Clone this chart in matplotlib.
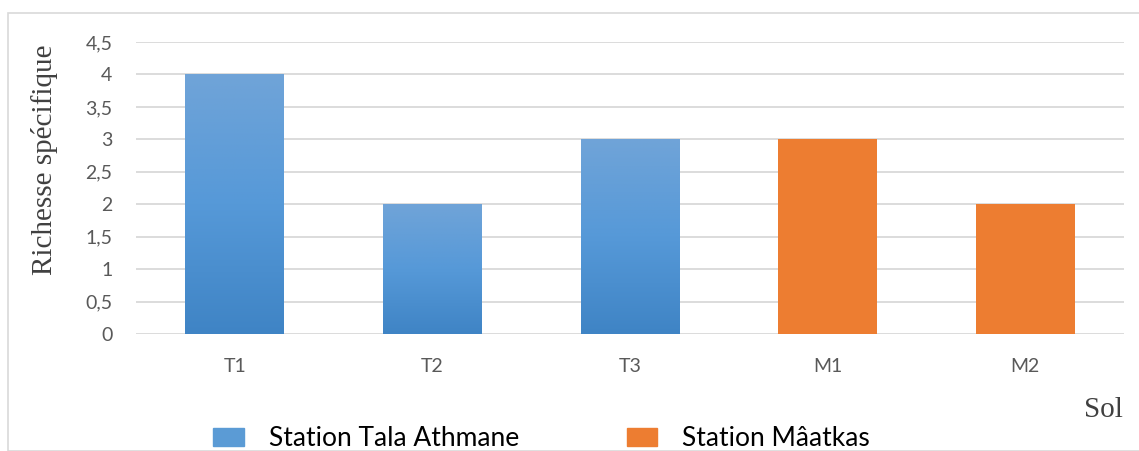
import matplotlib.pyplot as plt
import matplotlib.patches as mpatches
import matplotlib.patheffects as pe
import numpy as np
from matplotlib.colors import LinearSegmentedColormap

categories = ["T1", "T2", "T3", "M1", "M2"]
values = [4, 2, 3, 3, 2]
stations = ["Station Tala Athmane", "Station Tala Athmane", "Station Tala Athmane",
            "Station Mâatkas", "Station Mâatkas"]
yticks = [0, 0.5, 1, 1.5, 2, 2.5, 3, 3.5, 4, 4.5]
ytick_labels = ["0", "0,5", "1", "1,5", "2", "2,5", "3", "3,5", "4", "4,5"]

blue = "#5b9bd5"
orange = "#ed7d31"
blue_grad = LinearSegmentedColormap.from_list("bg", ["#3f84c5", "#5699d8", "#70a4d8"])

fig = plt.figure(figsize=(11.39, 4.51), dpi=100)
fig.patches.append(mpatches.Rectangle((8 / 1139, 0), 1.0, 1 - 13 / 451, transform=fig.transFigure,
                                      fill=False, edgecolor="#d9d9d9", linewidth=1.2))
ax = fig.add_axes([136 / 1139, 1 - 334 / 451, 988 / 1139, 292 / 451])

x = np.arange(len(categories))
colors = [blue if s.startswith("Station Tala") else orange for s in stations]
bars = ax.bar(x, values, width=0.5, color=colors, zorder=3,
              path_effects=[pe.SimplePatchShadow(offset=(0, 0), shadow_rgbFace="#888888", alpha=0.35),
                            pe.Normal()])

# gradient fill on the blue bars
grad = np.linspace(0, 1, 256).reshape(-1, 1)
for b, c in zip(bars, colors):
    if c == blue:
        im = ax.imshow(grad, cmap=blue_grad, origin="lower", aspect="auto", zorder=4,
                       extent=[b.get_x(), b.get_x() + b.get_width(), 0, b.get_height()])
        im.set_clip_path(b)

ax.set_xlim(-0.5, len(categories) - 0.5)
ax.set_ylim(0, 4.5)
ax.set_yticks(yticks)
ax.set_yticklabels(ytick_labels)
ax.set_xticks(x)
ax.set_xticklabels(categories)
ax.yaxis.grid(True, color="#d9d9d9", linewidth=1.3, zorder=0)
ax.set_axisbelow(True)
for s in ax.spines.values():
    s.set_visible(False)
ax.tick_params(length=0, labelsize=14, labelcolor="#595959")
ax.tick_params(axis="y", pad=17)
ax.tick_params(axis="x", pad=17)
for lab in ax.get_xticklabels() + ax.get_yticklabels():
    lab.set_family("Lato")

fig.text(45 / 1139, 1 - 160 / 451, "Richesse spécifique", rotation=90, ha="center", va="center",
         family="Liberation Serif", fontsize=21, color="#404040")
fig.text(1123 / 1139, 1 - 410 / 451, "Sol", ha="right", va="center",
         family="Liberation Serif", fontsize=21, color="#404040")

handles = [mpatches.Patch(color=blue, label="Station Tala Athmane"),
           mpatches.Patch(color=orange, label="Station Mâatkas")]
fig.legend(handles=handles, loc="center left", bbox_to_anchor=(200 / 1139, 1 - 439 / 451),
           ncol=2, frameon=False, prop={"family": "Lato", "size": 19}, borderpad=0,
           handlelength=1.15, handleheight=0.65, columnspacing=4.1, handletextpad=0.95)

fig.savefig("out.png", dpi=100)
